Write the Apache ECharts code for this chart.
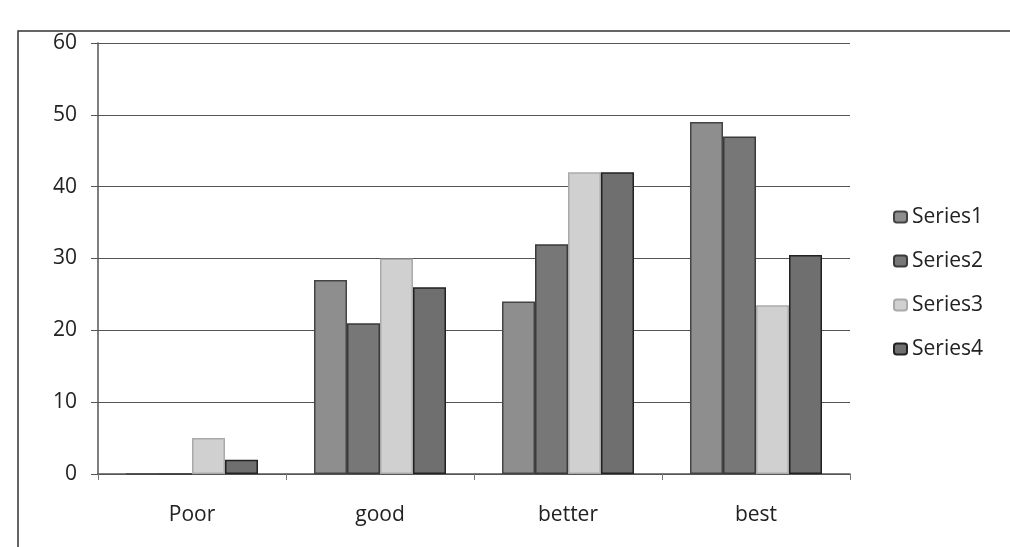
<!DOCTYPE html>
<html>
<head>
<meta charset="utf-8">
<script src="https://cdn.jsdelivr.net/npm/echarts@6/dist/echarts.min.js"></script>
<style>
  html, body { margin: 0; padding: 0; background: #fff; }
  #chart { width: 1010px; height: 547px; }
</style>
</head>
<body>
<div id="chart"></div>
<script>
// 数据
const categories = ['Poor', 'good', 'better', 'best'];
const series1 = [0, 27, 24, 49];
const series2 = [0, 21, 32, 47];
const series3 = [5, 30, 42, 23.5];
const series4 = [2, 26, 42, 30.5];
const yTicks = [0, 10, 20, 30, 40, 50, 60];

const fontFamily = '"Open Sans", sans-serif';

const chart = echarts.init(document.getElementById('chart'));

const makeBar = (name, data, color, border) => ({
    name,
    type: 'bar',
    data,
    barWidth: 33,
    barGap: '0%',
    itemStyle: { color, borderColor: border, borderWidth: 1.5 }
});

chart.setOption({
    animation: false,
    backgroundColor: '#fff',
    grid: { left: 98, right: 160, top: 43, bottom: 73 },
    legend: {
        orient: 'vertical',
        left: 888,
        top: 197,
        itemWidth: 13,
        itemHeight: 11,
        itemGap: 14,
        textStyle: { fontFamily, fontSize: 21, color: '#222', lineHeight: 30 },
        data: ['Series1', 'Series2', 'Series3', 'Series4']
    },
    xAxis: {
        type: 'category',
        data: categories,
        axisLine: { lineStyle: { color: '#555', width: 1.5 } },
        axisTick: { show: true, length: 6, lineStyle: { color: '#777' } },
        axisLabel: { margin: 31, fontFamily, fontSize: 21, color: '#222' }
    },
    yAxis: {
        type: 'value',
        min: yTicks[0],
        max: yTicks[yTicks.length - 1],
        interval: 10,
        axisLine: { show: true, lineStyle: { color: '#555', width: 1.5 } },
        axisTick: { show: true, length: 7, lineStyle: { color: '#555' } },
        axisLabel: { margin: 21, fontFamily, fontSize: 21, color: '#222' },
        splitLine: { lineStyle: { color: '#555', width: 1.2 } }
    },
    graphic: [
        // 外框(扫描图的边框)
        {
            type: 'polyline',
            shape: { points: [[18, 547], [18, 31], [1010, 31]] },
            style: { stroke: '#333', lineWidth: 1.5, fill: null },
            silent: true
        }
    ],
    series: [
        makeBar('Series1', series1, '#8e8e8e', '#444'),
        makeBar('Series2', series2, '#777777', '#3a3a3a'),
        makeBar('Series3', series3, '#d0d0d0', '#aaa'),
        makeBar('Series4', series4, '#6f6f6f', '#222')
    ]
});
</script>
</body>
</html>
